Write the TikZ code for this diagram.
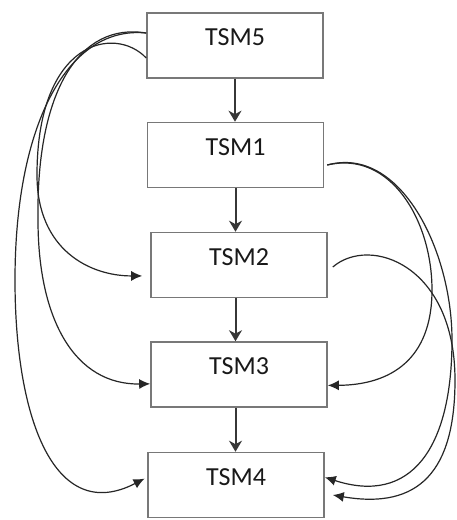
\documentclass[tikz,border=0pt]{standalone}
\usepackage{fontspec}
\setmainfont{Carlito}
\usetikzlibrary{arrows.meta,calc}
\definecolor{boxgray}{RGB}{120,120,120}
\definecolor{txt}{RGB}{25,25,25}
\definecolor{arrgray}{RGB}{55,55,55}
\begin{document}
\begin{tikzpicture}[x=1pt,y=-1pt,
  tsm/.style={draw=boxgray, line width=1.6pt, fill=white, minimum width=176pt, minimum height=65pt,
    inner sep=0pt, text height=17pt, text depth=17pt, font=\fontsize{26}{30}\selectfont, text=txt},
  flowarrow/.style={draw=arrgray, line width=2pt, -{Stealth[length=11pt,width=13pt,inset=3.5pt]}},
  jump/.style={draw=black!85, line width=1.2pt, -{Latex[length=11pt,width=10pt]}}]
\useasboundingbox[fill=white] (0,0) rectangle (457,520);

\node[tsm] (t5) at (235,45.5) {TSM5};
\node[tsm] (t1) at (235.5,155) {TSM1};
\node[tsm] (t2) at (239,265) {TSM2};
\node[tsm] (t3) at (239,374.5) {TSM3};
\node[tsm] (t4) at (236,485) {TSM4};

% vertical chain
\draw[flowarrow] (t5.south) -- (t5.south |- t1.north);
\draw[flowarrow] (t1.south) -- (t1.south |- t2.north);
\draw[flowarrow] (t2.south -| t1.south) -- (t1.south |- t3.north);
\draw[flowarrow] (t3.south -| t1.south) -- (t1.south |- t4.north);

% left side loops from TSM5
\draw[jump, shorten >=3pt] (t5.172) .. controls (70,25) and (15,120) .. (15,280)
  .. controls (15,420) and (55,525) .. (t4.175);
\draw[jump] (t5.172) .. controls (80,22) and (36,90) .. (38,220)
  .. controls (38,320) and (75,385) .. (t3.186);
\draw[jump, shorten >=8pt] (t5.188) .. controls (115,25) and (37,40) .. (37,175)
  .. controls (37,250) and (90,276) .. (t2.187);

% right side loops
\draw[jump] ($(t1.east)+(3,10)$) .. controls (390,150) and (432,220) .. (432,290)
  .. controls (432,360) and (390,385) .. (t3.353);
\draw[jump] ($(t1.east)+(3,10)$) .. controls (400,145) and (452,250) .. (452,340)
  .. controls (452,450) and (410,505) .. (t4.5);
\draw[jump] ($(t2.east)+(5,2)$) .. controls (370,235) and (455,265) .. (455,380)
  .. controls (455,470) and (420,510) .. ($(t4.east)+(8,10)$);
\end{tikzpicture}
\end{document}
